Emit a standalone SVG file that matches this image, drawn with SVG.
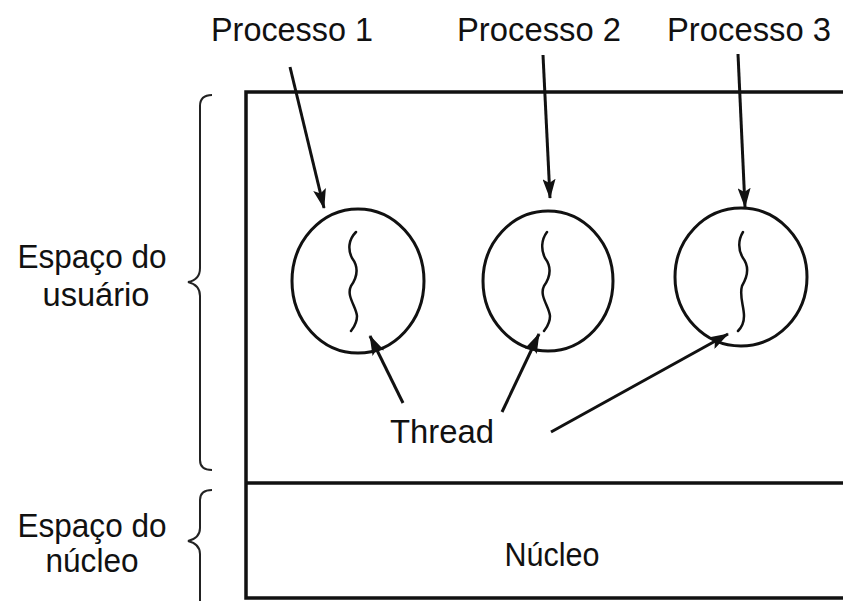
<svg xmlns="http://www.w3.org/2000/svg" width="843" height="601" viewBox="0 0 843 601">
<style>
  text { font-family: "Liberation Sans", Arial, sans-serif; font-size: 34px; fill: #111; }
  .ln { stroke: #111; stroke-width: 3; fill: none; }
  .box { stroke: #111; stroke-width: 3.5; fill: none; }
  .brace { stroke: #222; stroke-width: 2; fill: none; }
  .thr { stroke: #111; stroke-width: 2.5; fill: none; stroke-linecap: round; }
</style>
<defs>
  <marker id="ah" viewBox="0 0 20 13" refX="19" refY="6.5" markerWidth="20" markerHeight="13" markerUnits="userSpaceOnUse" orient="auto">
    <path d="M0,0 L20,6.5 L0,13 L4,6.5 z" fill="#111"/>
  </marker>
</defs>
<rect width="843" height="601" fill="#fff"/>

<g id="labels-left">
  <text x="92" y="268" text-anchor="middle" textLength="149" lengthAdjust="spacingAndGlyphs">Espaço do</text>
  <text x="96" y="306" text-anchor="middle" textLength="107" lengthAdjust="spacingAndGlyphs">usuário</text>
  <text x="92" y="537" text-anchor="middle" textLength="149" lengthAdjust="spacingAndGlyphs">Espaço do</text>
  <text x="92" y="572" text-anchor="middle" textLength="93" lengthAdjust="spacingAndGlyphs">núcleo</text>
</g>

<g id="braces">
  <path class="brace" d="M212,95 Q200,95 200,106 L200,268 Q200,280 188,282 Q200,285 200,296 L200,460 Q200,470 212,470"/>
  <path class="brace" d="M212,490 Q200,490 200,500 L200,528 Q200,538 188,541 Q200,544 200,554 L200,601"/>
</g>

<g id="space-box">
  <path class="box" d="M846,92 L246,92 L246,598 L846,598"/>
  <line class="box" x1="246" y1="483" x2="846" y2="483"/>
</g>

<g id="proc1">
  <ellipse class="ln" cx="358" cy="281" rx="66" ry="72"/>
  <path class="thr" d="M356,232 C348,240 348,250 352,258 C358,266 358,276 351,286 C346,296 356,306 357,316 C357,324 353,328 351,331"/>
</g>
<g id="proc2">
  <ellipse class="ln" cx="548" cy="281" rx="65" ry="70"/>
  <path class="thr" d="M547,232 C541,240 541,250 545,258 C551,266 551,276 544,286 C539,296 549,306 550,316 C550,324 546,328 544,331"/>
</g>
<g id="proc3">
  <ellipse class="ln" cx="741" cy="277" rx="66" ry="69"/>
  <path class="thr" d="M743,232 C738,240 738,250 743,258 C749,266 748,276 742,286 C739,296 744,306 744,316 C744,324 741,328 738,331"/>
</g>

<g id="titles">
  <text x="292" y="41" text-anchor="middle" textLength="162" lengthAdjust="spacingAndGlyphs">Processo 1</text>
  <text x="539" y="41" text-anchor="middle" textLength="164" lengthAdjust="spacingAndGlyphs">Processo 2</text>
  <text x="749" y="41" text-anchor="middle" textLength="164" lengthAdjust="spacingAndGlyphs">Processo 3</text>
  <text x="442" y="443" text-anchor="middle" textLength="104" lengthAdjust="spacingAndGlyphs">Thread</text>
  <text x="552" y="566" text-anchor="middle" textLength="95" lengthAdjust="spacingAndGlyphs">Núcleo</text>
</g>

<g id="connectors">
  <line class="ln" x1="290" y1="67" x2="324" y2="208" marker-end="url(#ah)"/>
  <line class="ln" x1="543" y1="55" x2="550" y2="198" marker-end="url(#ah)"/>
  <line class="ln" x1="738" y1="54" x2="745" y2="207" marker-end="url(#ah)"/>
  <line class="ln" x1="403" y1="403" x2="370" y2="336" marker-end="url(#ah)"/>
  <line class="ln" x1="502" y1="412" x2="539" y2="334" marker-end="url(#ah)"/>
  <line class="ln" x1="551" y1="432" x2="728" y2="334" marker-end="url(#ah)"/>
</g>
</svg>
